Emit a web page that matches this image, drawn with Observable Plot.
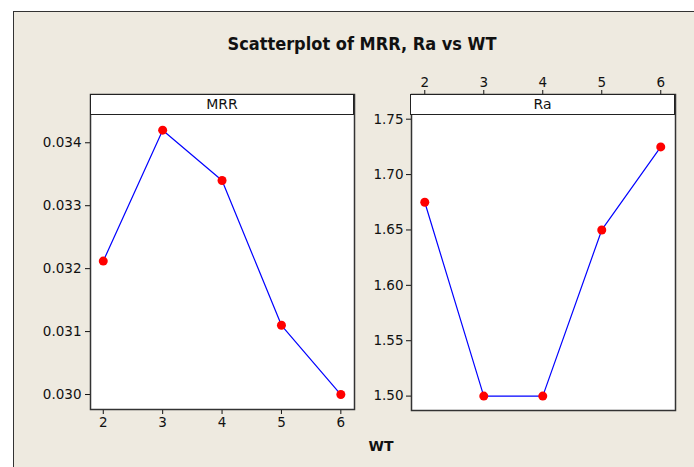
<!DOCTYPE html>
<html>
<head>
<meta charset="utf-8">
<script src="https://cdn.jsdelivr.net/npm/d3@7"></script>
<script src="https://cdn.jsdelivr.net/npm/@observablehq/plot@0.6"></script>
<style>
  html, body { margin: 0; padding: 0; background: #fff; }
  #wrap { position: relative; width: 694px; height: 467px; overflow: hidden; background: #fff; font-family: "DejaVu Sans", sans-serif; }
  #bg { position: absolute; left: 13px; top: 11px; width: 700px; height: 470px; background: #EEEAE0; border-left: 1.5px solid #333; border-top: 1.5px solid #333; }
  .title { position: absolute; left: 0; width: 724px; top: 33px; text-align: center; font-weight: bold; font-size: 18px; color: #111; font-family: "DejaVu Sans Condensed", "DejaVu Sans", sans-serif; font-stretch: condensed; }
  .xlabel { position: absolute; left: 331px; width: 100px; top: 438px; text-align: center; font-weight: bold; font-size: 14px; color: #111; }
  .strip { position: absolute; height: 19px; background: #fff; border: 1px solid #222; box-sizing: border-box; text-align: center; font-size: 14px; line-height: 18px; color: #111; }
  .panel { position: absolute; }
</style>
</head>
<body>
<div id="wrap">
  <div id="bg"></div>
  <div class="title">Scatterplot of MRR, Ra vs WT</div>
  <div class="panel" id="p1"></div>
  <div class="panel" id="p2"></div>
  <div class="strip" style="left:90px; top:94px; width:264px; height:21px;">MRR</div>
  <div class="strip" style="left:410px; top:94px; width:265px; height:21px;">Ra</div>
  <div class="xlabel">WT</div>
</div>
<script>
const wt = [2, 3, 4, 5, 6];
const mrr = [0.03212, 0.0342, 0.0334, 0.0311, 0.0300];
const ra = [1.675, 1.50, 1.50, 1.65, 1.725];
const xTicks = [2, 3, 4, 5, 6];
const mrrTicks = [0.030, 0.031, 0.032, 0.033, 0.034];
const raTicks = [1.50, 1.55, 1.60, 1.65, 1.70, 1.75];

const mrrData = wt.map((w, i) => ({wt: w, v: mrr[i]}));
const raData = wt.map((w, i) => ({wt: w, v: ra[i]}));

const common = {
  style: {background: "transparent", fontFamily: "DejaVu Sans, sans-serif", fontSize: "13.5px", color: "#111"}
};

const p1 = Plot.plot({
  ...common,
  width: 360, height: 380,
  marginLeft: 90, marginRight: 6, marginTop: 34, marginBottom: 31,
  x: {domain: [1.785, 6.23], ticks: xTicks, tickSize: 5, tickPadding: 3, label: null, axis: "bottom", tickFormat: d3.format("d")},
  y: {domain: [0.029762, 0.034767], ticks: mrrTicks, tickSize: 5, tickPadding: 4, label: null, tickFormat: d3.format(".3f")},
  marks: [
    Plot.frame({fill: "white", stroke: "#333", strokeWidth: 1.5}),
    Plot.line(mrrData, {x: "wt", y: "v", stroke: "#0000FF", strokeWidth: 1.2}),
    Plot.dot(mrrData, {x: "wt", y: "v", r: 4.5, fill: "#FF0000", stroke: "none"})
  ]
});
const e1 = document.getElementById("p1");
e1.style.left = "0px"; e1.style.top = "60px";
e1.appendChild(p1);

const p2 = Plot.plot({
  ...common,
  width: 334, height: 360,
  marginLeft: 51, marginRight: 19, marginTop: 34, marginBottom: 10,
  x: {domain: [1.775, 6.25], ticks: xTicks, tickSize: 5, tickPadding: 3, label: null, axis: "top", tickFormat: d3.format("d")},
  y: {domain: [1.487, 1.7723], ticks: raTicks, tickSize: 5, tickPadding: 3, label: null, tickFormat: d3.format(".2f")},
  marks: [
    Plot.frame({fill: "white", stroke: "#333", strokeWidth: 1.5}),
    Plot.line(raData, {x: "wt", y: "v", stroke: "#0000FF", strokeWidth: 1.2}),
    Plot.dot(raData, {x: "wt", y: "v", r: 4.5, fill: "#FF0000", stroke: "none"})
  ]
});
const e2 = document.getElementById("p2");
e2.style.left = "360px"; e2.style.top = "60px";
e2.appendChild(p2);
</script>
</body>
</html>
